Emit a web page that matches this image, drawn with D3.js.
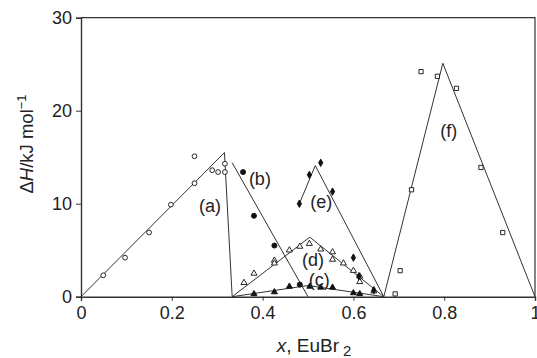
<!DOCTYPE html>
<html>
<head>
<meta charset="utf-8">
<script src="https://cdn.jsdelivr.net/npm/d3@7"></script>
<style>
  body { margin: 0; background: #fff; }
  text { font-family: "Liberation Sans", Arial, sans-serif; fill: #222; }
</style>
</head>
<body>
<div id="chart"></div>
<script>
// (x, dH) points
const pointsA = [[0.049,2.3],[0.097,4.2],[0.150,6.9],[0.198,9.9],[0.250,12.2],[0.250,15.1],
                 [0.289,13.6],[0.302,13.4],[0.317,14.3],[0.317,13.4]];
const pointsB = [[0.357,13.4],[0.381,8.7],[0.426,5.5],[0.482,1.3]];
const pointsC = [[0.381,0.3],[0.426,0.5],[0.459,1.1],[0.504,1.1],[0.528,1.0],[0.554,1.0],[0.600,0.4],[0.614,0.3]];
const pointsD = [[0.359,1.5],[0.381,2.5],[0.426,3.9],[0.426,3.6],[0.459,5.0],[0.482,5.4],[0.503,5.7],
                 [0.528,5.1],[0.554,4.8],[0.554,4.0],[0.578,3.6],[0.600,2.8],[0.614,2.2],[0.614,1.6],[0.645,0.6]];
const pointsE = [[0.481,10.0],[0.503,13.1],[0.528,14.4],[0.554,11.3],[0.600,4.2],[0.612,2.2],[0.645,0.7]];
const pointsF = [[0.692,0.3],[0.703,2.8],[0.728,11.5],[0.749,24.2],[0.785,23.7],[0.827,22.4],[0.881,13.9],[0.929,6.9]];

// fitted lines
const lineA = [[0,0],[0.316,15.5],[0.333,0]];
const lineB = [[0.333,14.4],[0.5,0]];
const lineC = [[0.333,0],[0.5,1.2],[0.667,0]];
const lineD = [[0.333,0],[0.504,6.4],[0.667,0]];
const lineE = [[0.481,10.0],[0.516,14.1],[0.667,0]];
const lineF = [[0.667,0],[0.797,25.1],[1,0]];

const labels = [["(a)",0.284,9.1],["(b)",0.394,12.0],["(c)",0.525,1.15],["(d)",0.511,3.3],["(e)",0.529,9.5],["(f)",0.81,17.2]];

const xTicks = [0,0.2,0.4,0.6,0.8,1];
const yTicks = [0,10,20,30];

const W = 537, H = 358;
const margin = {top: 17.7, left: 81, right: 2, bottom: 61.3};
const width = W - margin.left - margin.right,
      height = H - margin.top - margin.bottom;

const svg = d3.select("#chart").append("svg")
    .attr("width", W).attr("height", H);
const g = svg.append("g").attr("transform", `translate(${margin.left},${margin.top})`);

const x = d3.scaleLinear().domain([0,1]).range([0,width]);
const y = d3.scaleLinear().domain([0,30]).range([height,0]);

// frame (top + right)
g.append("path")
    .attr("d", `M0,0H${width}V${height}`)
    .attr("fill", "none").attr("stroke", "#333").attr("stroke-width", 1.2);

const fmtX = d => d === 0 ? "0" : d === 1 ? "1" : d3.format(".1f")(d);
const xAxis = g.append("g").attr("transform", `translate(0,${height})`)
    .call(d3.axisBottom(x).tickValues(xTicks).tickFormat(fmtX).tickSizeOuter(0).tickSize(4).tickPadding(6));
const yAxis = g.append("g")
    .call(d3.axisLeft(y).tickValues(yTicks).tickSizeOuter(0).tickSize(5).tickPadding(4));
[xAxis, yAxis].forEach(a => {
  a.select(".domain").attr("stroke", "#333").attr("stroke-width", 1.4);
  a.selectAll(".tick line").attr("stroke", "#333");
  a.selectAll(".tick text").attr("font-size", 18).attr("fill", "#222")
    .attr("font-family", "Liberation Sans, Arial, sans-serif");
});

const line = d3.line().x(d => x(d[0])).y(d => y(d[1]));
[lineA, lineB, lineC, lineD, lineE, lineF].forEach(l => {
  g.append("path").datum(l).attr("d", line)
    .attr("fill", "none").attr("stroke", "#333").attr("stroke-width", 1);
});

const sym = (type, size) => d3.symbol().type(type).size(size);
function drawPoints(data, type, size, filled) {
  g.append("g").selectAll("path").data(data).join("path")
    .attr("transform", d => `translate(${x(d[0])},${y(d[1])})`)
    .attr("d", sym(type, size))
    .attr("fill", filled ? "#111" : "#fff")
    .attr("stroke", "#111").attr("stroke-width", 0.9);
}
drawPoints(pointsA, d3.symbolCircle, 18, false);
drawPoints(pointsB, d3.symbolCircle, 20, true);
drawPoints(pointsC, d3.symbolTriangle, 16, true);
drawPoints(pointsD, d3.symbolTriangle, 16, false);
drawPoints(pointsE, d3.symbolDiamond, 16, true);
drawPoints(pointsF, d3.symbolSquare, 18, false);

g.selectAll(".lbl").data(labels).join("text")
    .attr("x", d => x(d[1])).attr("y", d => y(d[2]))
    .attr("text-anchor", "middle").attr("font-size", 18)
    .text(d => d[0]);

// axis titles
const xt = svg.append("text")
    .attr("x", 314).attr("y", 352)
    .attr("text-anchor", "middle").attr("font-size", 19);
xt.append("tspan").attr("font-style", "italic").text("x");
xt.append("tspan").text(", EuBr");
xt.append("tspan").attr("dx", 4).attr("dy", 4).attr("font-size", 15).text("2");

const yt = svg.append("text")
    .attr("transform", "translate(33,144) rotate(-90)")
    .attr("text-anchor", "middle").attr("font-size", 18.5);
yt.append("tspan").text("Δ");
yt.append("tspan").attr("font-style", "italic").text("H");
yt.append("tspan").text("/kJ mol");
yt.append("tspan").attr("dy", -7).attr("font-size", 13).text("−1");
</script>
</body>
</html>
